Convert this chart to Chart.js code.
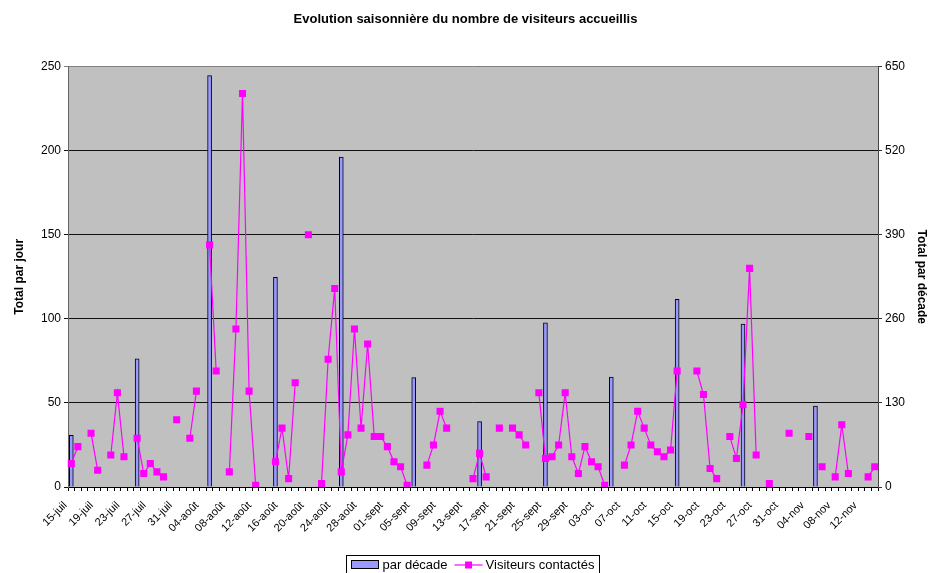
<!DOCTYPE html>
<html>
<head>
<meta charset="utf-8">
<title>Evolution saisonnière</title>
<script src="https://cdn.jsdelivr.net/npm/chart.js@4.4.1/dist/chart.umd.min.js"></script>
<style>
  html, body { margin: 0; padding: 0; background: #fff; }
  #wrap { width: 931px; height: 573px; }
</style>
</head>
<body>
<div id="wrap"><canvas id="chart" width="931" height="573"></canvas></div>
<script>
// categories: one per day, 15-juil -> 14-nov
const months = [
  { name: 'juil', first: 15, last: 31 },
  { name: 'août', first: 1, last: 31 },
  { name: 'sept', first: 1, last: 30 },
  { name: 'oct', first: 1, last: 31 },
  { name: 'nov', first: 1, last: 14 },
];
const days = [];
months.forEach((m) => {
  for (let d = m.first; d <= m.last; d++) {
    days.push(String(d).padStart(2, '0') + '-' + m.name);
  }
});

// Visiteurs contactés (left axis), null = no value that day
const visiteurs = [
  14, 24, null, 32, 10, null, 19, 56, 18, null,
  29, 8, 14, 9, 6, null, 40, null, 29, 57,
  null, 144, 69, null, 9, 94, 234, 57, 1, null,
  null, 15, 35, 5, 62, null, 150, null, 2, 76,
  118, 9, 31, 94, 35, 85, 30, 30, 24, 15,
  12, 1, null, null, 13, 25, 45, 35, null, null,
  null, 5, 20, 6, null, 35, null, 35, 31, 25,
  null, 56, 17, 18, 25, 56, 18, 8, 24, 15,
  12, 1, null, null, 13, 25, 45, 35, 25, 21,
  18, 22, 69, null, null, 69, 55, 11, 5, null,
  30, 17, 49, 130, 19, null, 2, null, null, 32,
  null, null, 30, null, 12, null, 6, 37, 8, null,
  null, 6, 12,
];

// par décade (right axis): day of the bar and its total
const decadeDays = ['15-juil', '25-juil', '05-août', '15-août', '25-août', '05-sept',
  '15-sept', '25-sept', '05-oct', '15-oct', '25-oct', '05-nov'];
const decadeTotals = [80, 198, 636, 324, 510, 169, 101, 254, 170, 290, 252, 125];

const parDecade = days.map((d) => {
  const k = decadeDays.indexOf(d);
  return k >= 0 ? decadeTotals[k] : null;
});

const leftTicks = [0, 50, 100, 150, 200, 250];
const rightTicks = [0, 130, 260, 390, 520, 650];

const FONT = '"Liberation Sans", Arial, sans-serif';
Chart.defaults.font.family = FONT;
Chart.defaults.color = '#000';

const plotBackground = {
  id: 'plotBackground',
  beforeDraw(chart) {
    const a = chart.chartArea;
    const ctx = chart.ctx;
    ctx.save();
    ctx.fillStyle = '#C0C0C0';
    ctx.fillRect(a.left, a.top, a.right - a.left, a.bottom - a.top);
    ctx.restore();
  },
};

// legend box as drawn by the spreadsheet
const boxLegend = {
  id: 'boxLegend',
  afterDraw(chart) {
    const ctx = chart.ctx;
    const a = chart.chartArea;
    ctx.save();
    ctx.font = '13px ' + FONT;
    const t1 = 'par décade';
    const t2 = 'Visiteurs contactés';
    const w1 = ctx.measureText(t1).width;
    const w2 = ctx.measureText(t2).width;
    const W = 5 + 28 + 3 + w1 + 7 + 28 + 3 + w2 + 5;
    const left = Math.round((a.left + a.right) / 2 - W / 2) - 0.5;
    const top = 555.5;
    const mid = 565;
    ctx.strokeStyle = '#000';
    ctx.lineWidth = 1;
    ctx.strokeRect(left, top, Math.round(W), 22);
    // bar swatch
    let x = left + 5;
    ctx.fillStyle = '#9999FF';
    ctx.fillRect(x, mid - 4, 27, 8);
    ctx.strokeRect(x, mid - 4.5, 27, 8);
    x += 28 + 3;
    ctx.fillStyle = '#000';
    ctx.textBaseline = 'middle';
    ctx.fillText(t1, x, mid);
    x += w1 + 7;
    // line swatch
    ctx.strokeStyle = '#FF00FF';
    ctx.lineWidth = 1.2;
    ctx.beginPath();
    ctx.moveTo(x, mid);
    ctx.lineTo(x + 28, mid);
    ctx.stroke();
    ctx.fillStyle = '#FF00FF';
    ctx.fillRect(x + 14 - 3.5, mid - 3.5, 7, 7);
    x += 28 + 3;
    ctx.fillStyle = '#000';
    ctx.fillText(t2, x, mid);
    ctx.restore();
  },
};

const ctx = document.getElementById('chart').getContext('2d');
new Chart(ctx, {
  data: {
    labels: days,
    datasets: [
      {
        type: 'line',
        label: 'Visiteurs contactés',
        data: visiteurs,
        yAxisID: 'y',
        borderColor: '#FF00FF',
        backgroundColor: '#FF00FF',
        borderWidth: 1.2,
        pointStyle: 'rect',
        pointRadius: 5,
        pointBorderWidth: 0,
        pointBackgroundColor: '#FF00FF',
        spanGaps: false,
        tension: 0,
        order: 1,
      },
      {
        type: 'bar',
        label: 'par décade',
        data: parDecade,
        yAxisID: 'y2',
        backgroundColor: '#9999FF',
        borderColor: '#000',
        borderWidth: 1,
        barThickness: 4,
        order: 2,
      },
    ],
  },
  options: {
    responsive: false,
    animation: false,
    layout: { padding: { left: 0, right: 0, top: 0, bottom: 26 } },
    plugins: {
      legend: { display: false },
      tooltip: { enabled: false },
      title: {
        display: true,
        text: 'Evolution saisonnière du nombre de visiteurs accueillis',
        font: { size: 13, weight: 'bold' },
        color: '#000',
        padding: { top: 12, bottom: 39 },
      },
    },
    scales: {
      x: {
        offset: true,
        ticks: {
          autoSkip: false,
          minRotation: 45,
          maxRotation: 45,
          font: { size: 11 },
          padding: 8,
          labelOffset: -6,
          callback: (v, i) => (i % 4 === 0 ? days[i] : ''),
        },
        grid: { drawOnChartArea: false, offset: true, tickLength: 4, color: '#000' },
        border: { color: '#000' },
        afterFit: (s) => { s.height = 60; },
      },
      y: {
        position: 'left',
        min: leftTicks[0],
        max: leftTicks[leftTicks.length - 1],
        afterBuildTicks: (s) => { s.ticks = leftTicks.map((v) => ({ value: v })); },
        ticks: { font: { size: 12 }, padding: 3 },
        grid: {
          color: (c) => (c.tick && c.tick.value === 250 ? '#808080' : '#111'),
          tickLength: 4,
        },
        border: { color: '#666' },
        title: {
          display: true,
          text: 'Total par jour',
          font: { size: 12, weight: 'bold' },
          padding: { top: 12, bottom: 0 },
        },
        afterFit: (s) => { s.width = 68; },
      },
      y2: {
        position: 'right',
        min: rightTicks[0],
        max: rightTicks[rightTicks.length - 1],
        afterBuildTicks: (s) => { s.ticks = rightTicks.map((v) => ({ value: v })); },
        ticks: { font: { size: 12 }, padding: 3 },
        grid: { drawOnChartArea: false, tickLength: 4, color: '#333' },
        border: { color: '#444' },
        title: {
          display: true,
          text: 'Total par décade',
          font: { size: 12, weight: 'bold' },
          padding: { top: 2, bottom: 0 },
        },
        afterFit: (s) => { s.width = 53; },
      },
    },
  },
  plugins: [plotBackground, boxLegend],
});
</script>
</body>
</html>
